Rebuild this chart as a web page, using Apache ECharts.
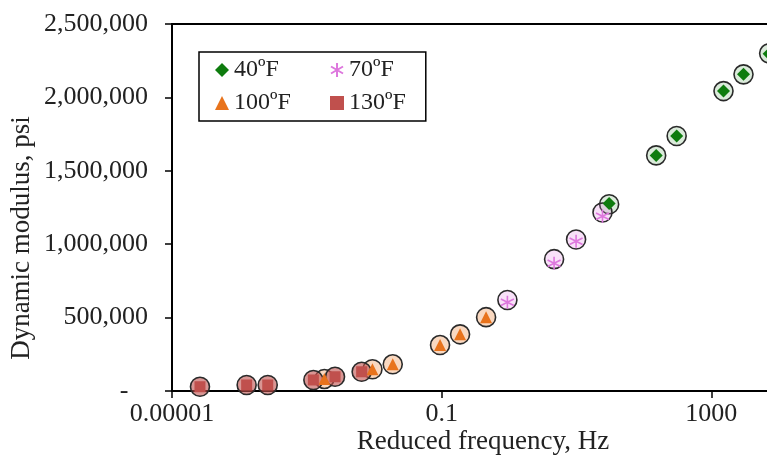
<!DOCTYPE html>
<html>
<head>
<meta charset="utf-8">
<script src="https://cdn.jsdelivr.net/npm/echarts@6/dist/echarts.min.js"></script>
<style>
html,body{margin:0;padding:0;background:#fff;}
#chart{width:767px;height:458px;}
</style>
</head>
<body>
<div id="chart"></div>
<script>
// ---- data ----
const seriesNames = ['40ºF', '70ºF', '100ºF', '130ºF'];
const freq40 = [30.5, 152, 306, 1515, 3000, 7200];
const e40 = [1277000, 1605000, 1737000, 2043000, 2157000, 2297000];
const fit40 = [1272000, 1605000, 1737000, 2043000, 2157000, 2300000];
const freq70 = [0.944, 4.65, 9.86, 24.3];
const e70 = [605000, 870000, 1020000, 1190000];
const fit70 = [620000, 898000, 1032000, 1216000];
const freq100 = [0.00182, 0.0094, 0.0188, 0.0946, 0.1875, 0.456];
const e100 = [82000, 148000, 182000, 313000, 386000, 503000];
const fit100 = [82000, 148000, 182000, 313000, 386000, 503000];
const freq130 = [2.6e-5, 1.28e-4, 2.63e-4, 1.25e-3, 2.62e-3, 6.5e-3];
const e130 = [29000, 41000, 41000, 75000, 97000, 131000];
const fit130 = [29000, 41000, 41000, 75000, 97000, 131000];
const yTicks = [0, 500000, 1000000, 1500000, 2000000, 2500000];
const xTickExps = [-5, -1, 3, 7];

const pairs = (xs, ys) => xs.map((x, i) => [x, ys[i]]);
const FONT = 'Liberation Serif';
const colors = ['#0e7c0e', '#dd77dd', '#e8731c', '#c0504d'];
const tints = ['rgba(14,124,14,0.15)', 'rgba(221,119,221,0.22)', 'rgba(232,115,28,0.28)', 'rgba(192,80,77,0.6)'];
const freqs = [freq40, freq70, freq100, freq130];
const vals = [e40, e70, e100, e130];
const fits = [fit40, fit70, fit100, fit130];
const symbols = ['diamond', 'path://M50,0 L50,100 M7,25 L93,75 M7,75 L93,25', 'triangle', 'rect'];
const symSizes = [13, 13, 12, 11];

const series = [];
for (let k = 0; k < 4; k++) {
  series.push({
    name: 'fit' + k,
    type: 'scatter',
    data: pairs(freqs[k], fits[k]),
    symbol: 'circle',
    symbolSize: 19,
    z: 2,
    itemStyle: { color: tints[k], borderColor: '#2a2a2a', borderWidth: 1.6, opacity: 1 },
    silent: true
  });
}
for (let k = 0; k < 4; k++) {
  const isStar = k === 1;
  series.push({
    name: seriesNames[k],
    type: 'scatter',
    data: pairs(freqs[k], vals[k]),
    symbol: symbols[k],
    symbolSize: symSizes[k],
    z: 3,
    itemStyle: isStar
      ? { color: 'rgba(0,0,0,0)', borderColor: colors[k], borderWidth: 1.6, opacity: 1 }
      : { color: colors[k], opacity: 1 }
  });
}

const legendText = { fontFamily: FONT, fontSize: 24, color: '#222' };
const chart = echarts.init(document.getElementById('chart'), null, { renderer: 'canvas' });
chart.setOption({
  animation: false,
  backgroundColor: '#fff',
  grid: {
    left: 172, top: 24, bottom: 67, width: 809,
    outerBoundsMode: 'none', containLabel: false,
    show: true, borderColor: '#000', borderWidth: 2, backgroundColor: 'transparent'
  },
  legend: [
    {
      data: [seriesNames[0], seriesNames[2]],
      orient: 'vertical',
      left: 199, top: 52,
      padding: [6, 135, 6, 16],
      itemWidth: 14, itemHeight: 14, itemGap: 9,
      borderColor: '#000', borderWidth: 1.5,
      itemStyle: { opacity: 1 },
      textStyle: legendText
    },
    {
      data: [seriesNames[1], seriesNames[3]],
      orient: 'vertical',
      left: 330, top: 58,
      padding: 0,
      itemWidth: 14, itemHeight: 14, itemGap: 9,
      itemStyle: { opacity: 1 },
      textStyle: legendText
    }
  ],
  xAxis: {
    type: 'log',
    logBase: 10,
    min: Math.pow(10, xTickExps[0]),
    max: Math.pow(10, xTickExps[xTickExps.length - 1]),
    interval: 4,
    axisLine: { lineStyle: { color: '#000', width: 2 } },
    axisTick: { show: true, length: 7, lineStyle: { color: '#000', width: 1.5 } },
    minorTick: { show: false },
    splitLine: { show: false },
    axisLabel: {
      fontFamily: FONT, fontSize: 26, color: '#222', margin: 10,
      formatter: function (v) {
        const e = Math.round(Math.log10(v));
        return e < 0 ? '0.' + '0'.repeat(-e - 1) + '1' : String(Math.pow(10, e));
      }
    }
  },
  yAxis: {
    type: 'value',
    min: yTicks[0], max: yTicks[yTicks.length - 1], interval: yTicks[1] - yTicks[0],
    axisLine: { show: true, lineStyle: { color: '#000', width: 2 } },
    axisTick: { show: true, length: 7, lineStyle: { color: '#000', width: 1.5 } },
    splitLine: { show: false },
    axisLabel: {
      fontFamily: FONT, fontSize: 26, color: '#222', margin: 24,
      formatter: function (v) { return v === 0 ? '-   ' : v.toLocaleString('en-US'); }
    }
  },
  graphic: [
    { type: 'text', x: 483, y: 442, style: { text: 'Reduced frequency, Hz', fontFamily: FONT, fontSize: 27, fill: '#222', textAlign: 'center', textVerticalAlign: 'middle' } },
    { type: 'text', x: 22, y: 238, rotation: Math.PI / 2, style: { text: 'Dynamic modulus, psi', fontFamily: FONT, fontSize: 27, fill: '#222', textAlign: 'center', textVerticalAlign: 'middle' } }
  ],
  series: series
});
</script>
</body>
</html>
